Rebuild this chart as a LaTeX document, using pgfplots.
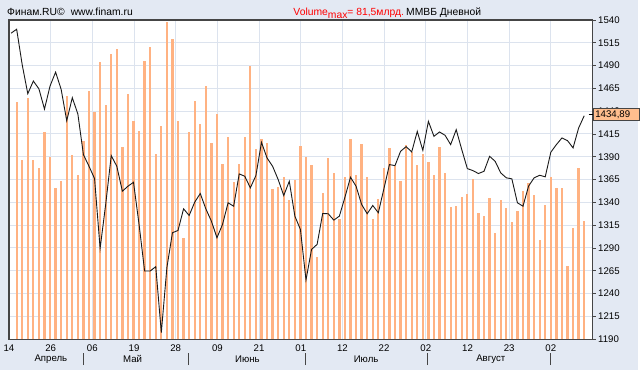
\documentclass[border=0pt]{standalone}
\usepackage{pgfplots}
\pgfplotsset{compat=1.18}
\usepackage{pgfplotstable}
\usepackage{fontspec}
\setmainfont{Liberation Sans}
\definecolor{bgc}{HTML}{E3E9F3}
\definecolor{gridc}{HTML}{DCE3EE}
\definecolor{barc}{HTML}{FFB282}
\definecolor{framec}{HTML}{454545}
\definecolor{boxc}{HTML}{FFBE8E}

\pgfplotstableread{
x v
0 60.5
1 45.8
2 61.5
3 45.7
4 43.8
5 52.8
6 46.4
7 38.5
8 40.5
9 62.1
10 46.9
11 42.0
12 50.6
13 63.4
14 58.1
15 70.7
16 59.9
17 72.8
18 74.1
19 49.0
20 62.7
21 55.8
22 53.2
23 71.0
24 74.5
25 47.3
26 54.5
27 81.1
28 76.7
29 55.6
30 25.7
31 53.0
32 60.9
33 54.9
34 64.6
35 50.0
36 57.6
37 44.6
38 51.6
39 40.1
40 44.6
41 51.6
42 69.8
43 48.6
44 51.2
45 50.0
46 38.4
47 38.9
48 41.3
49 35.5
50 40.6
51 49.2
52 46.5
53 44.4
54 21.0
55 37.4
56 46.3
57 42.5
58 30.6
59 41.3
60 51.1
61 41.8
62 49.9
63 41.3
64 30.7
65 35.7
66 43.6
67 48.7
68 44.1
69 40.5
70 49.7
71 47.8
72 44.5
73 47.3
74 45.2
75 42.0
76 49.0
77 42.3
78 33.7
79 33.9
80 36.2
81 37.1
82 40.8
83 32.1
84 31.4
85 36.0
86 27.2
87 35.5
88 33.4
89 30.0
90 32.6
91 37.8
92 39.9
93 36.7
94 25.2
95 34.3
96 41.4
97 38.5
98 38.5
99 18.8
100 28.3
101 43.8
102 30.1
}\voltable

\pgfplotstableread{
x p
-1 1525.5
0 1529.8
1 1490.8
2 1459.1
3 1473.0
4 1464.5
5 1442.3
6 1467.5
7 1482.8
8 1463.8
9 1429.5
10 1454.7
11 1436.9
12 1392.3
13 1379.6
14 1366.1
15 1289.5
16 1337.7
17 1391.2
18 1379.6
19 1352.2
20 1357.7
21 1362.0
22 1315.8
23 1264.7
24 1264.7
25 1269.5
26 1197.3
27 1268.4
28 1306.7
29 1309.2
30 1332.9
31 1325.6
32 1340.2
33 1349.7
34 1332.9
35 1319.4
36 1301.2
37 1315.8
38 1339.5
39 1335.8
40 1371.2
41 1368.6
42 1355.9
43 1369.4
44 1405.8
45 1388.7
46 1379.6
47 1365.0
48 1347.5
49 1363.1
50 1324.9
51 1310.3
52 1254.9
53 1288.4
54 1293.9
55 1327.8
56 1327.5
57 1320.5
58 1324.9
59 1345.6
60 1367.5
61 1357.7
62 1337.7
63 1327.5
64 1336.6
65 1328.6
66 1354.8
67 1381.4
68 1380.3
69 1396.0
70 1401.1
71 1395.3
72 1417.8
73 1397.0
74 1428.8
75 1412.4
76 1417.2
77 1413.5
78 1403.3
79 1419.7
80 1397.8
81 1377.0
82 1374.8
83 1371.6
84 1374.1
85 1390.5
86 1385.0
87 1372.3
88 1366.9
89 1365.8
90 1339.5
91 1335.8
92 1357.7
93 1366.9
94 1369.7
95 1368.0
96 1394.9
97 1403.3
98 1410.6
99 1407.7
100 1399.7
101 1421.5
102 1434.9
}\pricetable

\begin{document}
\begin{tikzpicture}[x=1bp,y=1bp]
\fill[bgc] (0,0) rectangle (640,371);
\pgfplotsset{base/.style={at={(9bp,31bp)}, anchor=south west, scale only axis,
  width=585bp, height=320bp, xmin=-1.38, xmax=103.5,
  xtick={-1.38,6.11,13.60,21.09,28.59,36.08,43.57,51.06,58.55,66.04,73.53,81.03,88.52,96.01}}}
% grid
\begin{axis}[base, ymin=1190, ymax=1540, ytick={1190,1215,...,1540},
  axis background/.style={fill=white}, grid=major,
  major grid style={gridc, line width=1bp},
  axis line style={draw=none}, xticklabels={}, yticklabels={}, major tick length=0pt]
\end{axis}
% volume
\begin{axis}[base, ymin=0, ymax=81.5, hide axis]
\addplot[ycomb, barc, line width=2.3bp] table[x=x, y=v] {\voltable};
\end{axis}
% price
\begin{axis}[base, ymin=1190, ymax=1540, ytick={1190,1215,...,1540},
  axis line style={framec, line width=1.3bp},
  xticklabels={14,26,06,19,28,09,21,01,12,22,02,12,23,02},
  xtick pos=bottom, ytick pos=right, tick align=outside,
  ytick style={framec, line width=0.6bp}, major tick length=3bp,
  xtick style={draw=none},
  ticklabel style={font=\fontsize{9.7}{11}\selectfont},
  /pgf/number format/assume math mode=true,
  /pgf/number format/1000 sep={},
  yticklabel style={xshift=1bp, inner sep=1.5bp},
  xticklabel style={yshift=1bp}]
\addplot[black!90, line width=0.9bp] table[x=x, y=p] {\pricetable};
\end{axis}
% last price box
\draw[black, line width=0.6bp] (590,256) -- (594,256);
\node[fill=boxc, draw=framec, line width=0.6bp, anchor=west, minimum height=12bp,
  minimum width=47bp, inner xsep=2.5bp, inner ysep=1bp, align=left, text width=42bp,
  font=\fontsize{9.7}{11}\selectfont] at (594,256) {1434,89};
% top texts
\node[anchor=base west, inner sep=0pt, font=\fontsize{10.4}{12}\selectfont] at (7,355)
  {Финам.RU©\hspace{6bp}www.finam.ru};
\node[anchor=base west, inner sep=0pt, text=red, font=\fontsize{10.4}{12}\selectfont] at (294,355)
  {Volume\raisebox{-3bp}{max}= 81,5млрд.};
\node[anchor=base west, inner sep=0pt, font=\fontsize{10.4}{12}\selectfont] at (407,355)
  {ММВБ Дневной};
% months
\foreach \mx/\mn in {51/Апрель,133/Май,248/Июнь,367/Июль,492/Август}
  \node[font=\fontsize{9.7}{11}\selectfont, inner sep=0pt] at (\mx,11) {\mn};
\foreach \sx in {83.7,189,306,428.6,551.8}
  \draw[framec, line width=1.2bp] (\sx,5) -- (\sx,17);
\end{tikzpicture}
\end{document}
